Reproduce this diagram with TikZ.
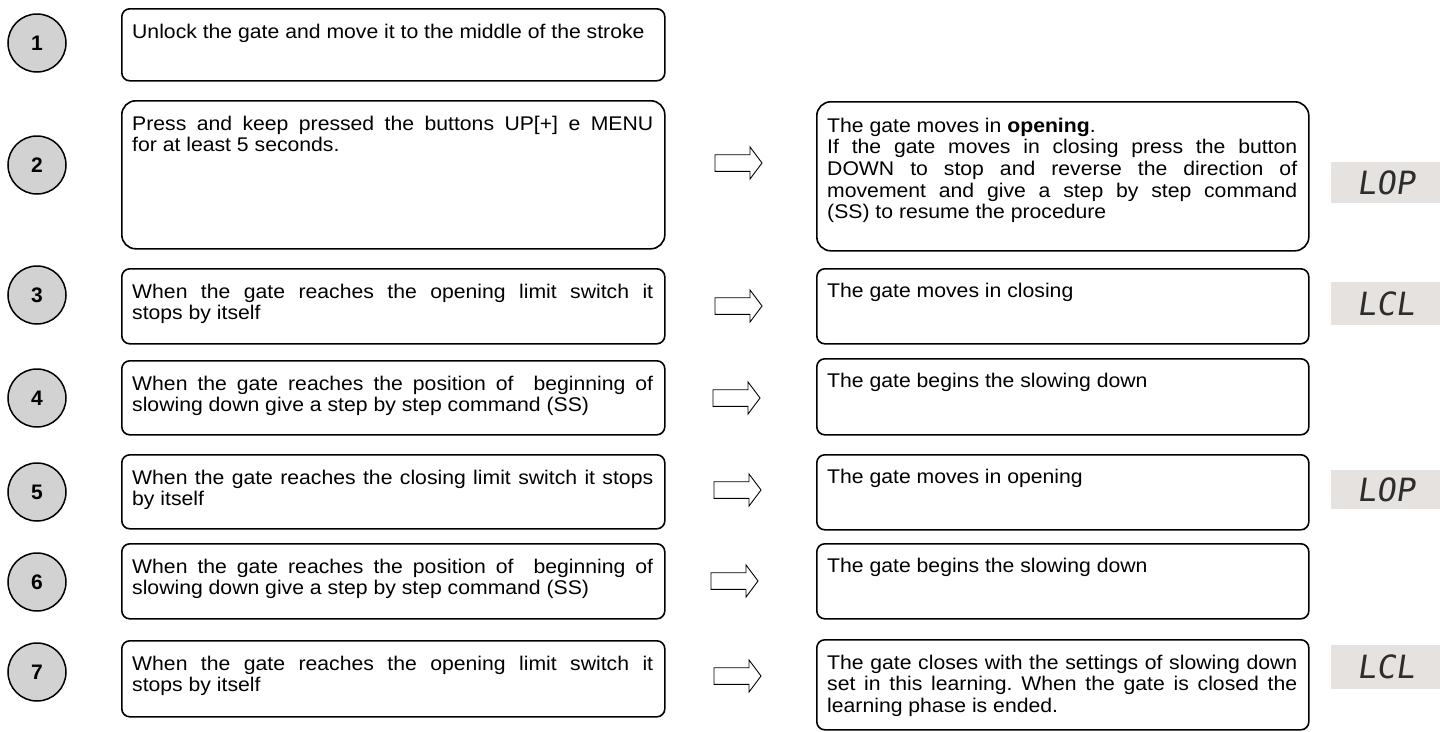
\documentclass[tikz,border=0pt]{standalone}
\usepackage{fontspec}
\setmainfont{Liberation Sans}[FakeStretch=1.07]
\newfontfamily\numfont{Liberation Sans}
\newfontfamily\segfont{DejaVu Sans Mono}[FakeSlant=0.15]
\definecolor{circfill}{RGB}{210,210,210}
\definecolor{dispfill}{RGB}{229,226,224}
\definecolor{segcol}{RGB}{45,45,45}
\frenchspacing
\begin{document}
\begin{tikzpicture}[x=1pt,y=-1pt,
  box/.style={draw, line width=1.6pt, rounded corners=8pt, anchor=north west, inner sep=0pt},
  bigbox/.style={box, rounded corners=14pt},
  num/.style={circle, draw, line width=1.5pt, fill=circfill, minimum size=58pt, inner sep=0pt,
    font=\numfont\bfseries\fontsize{21}{21}\selectfont},
  txt/.style={anchor=base west, inner sep=0pt, align=justify, font=\fontsize{19.8}{21.7}\selectfont},
  ltxt/.style={txt, text width=521pt},
  rtxt/.style={txt, text width=470pt},
  disp/.style={fill=dispfill, anchor=north west, inner sep=0pt, minimum width=109pt,
    text=segcol, font=\segfont\fontsize{32}{32}\selectfont},
  blockarrow/.pic={\draw[line width=0.9pt, fill=white] (-23.5,-8.3) -- (11.5,-8.3) -- (11.5,-16) -- (23.5,0)
     -- (11.5,16) -- (11.5,8.3) -- (-23.5,8.3) -- cycle;}
]
\useasboundingbox (0,0) rectangle (1440,731);

% step circles
\node[num] (c1) at (37,43) {1};
\node[num] (c2) at (37,165) {2};
\node[num] (c3) at (37,295) {3};
\node[num] (c4) at (37,398) {4};
\node[num] (c5) at (37,492) {5};
\node[num] (c6) at (37,582) {6};
\node[num] (c7) at (37,672) {7};

% left boxes
\node[box, minimum width=543pt, minimum height=72pt] (l1) at (121,8) {};
\node[bigbox, minimum width=543pt, minimum height=148pt] (l2) at (121,100) {};
\node[box, minimum width=543pt, minimum height=75pt] (l3) at (121,268) {};
\node[box, minimum width=543pt, minimum height=74pt] (l4) at (121,360) {};
\node[box, minimum width=543pt, minimum height=74pt] (l5) at (121,454) {};
\node[box, minimum width=543pt, minimum height=75pt] (l6) at (121,543) {};
\node[box, minimum width=543pt, minimum height=76pt] (l7) at (121,640) {};

\node[ltxt] (lt1) at ([xshift=11pt,yshift=-30pt]l1.north west) {Unlock the gate and move it to the middle of the stroke};
\node[ltxt] (lt2) at ([xshift=11pt,yshift=-30pt]l2.north west) {Press and keep pressed the buttons UP[+] e MENU \linebreak for at least 5 seconds.};
\node[ltxt] (lt3) at ([xshift=11pt,yshift=-30pt]l3.north west) {When the gate reaches the opening limit switch it \linebreak stops by itself};
\node[ltxt] (lt4) at ([xshift=11pt,yshift=-30pt]l4.north west) {When the gate reaches the position of\ \ beginning of \linebreak slowing down give a step by step command (SS)};
\node[ltxt] (lt5) at ([xshift=11pt,yshift=-30pt]l5.north west) {When the gate reaches the closing limit switch it stops \linebreak by itself};
\node[ltxt] (lt6) at ([xshift=11pt,yshift=-30pt]l6.north west) {When the gate reaches the position of\ \ beginning of \linebreak slowing down give a step by step command (SS)};
\node[ltxt] (lt7) at ([xshift=11pt,yshift=-30pt]l7.north west) {When the gate reaches the opening limit switch it \linebreak stops by itself};

% arrows
\pic (a2) at (738.5,163) {blockarrow};
\pic (a3) at (738.5,306) {blockarrow};
\pic (a4) at (736.5,398) {blockarrow};
\pic (a5) at (737.5,490) {blockarrow};
\pic (a6) at (734.5,581) {blockarrow};
\pic (a7) at (737.5,676) {blockarrow};

% right boxes
\node[bigbox, minimum width=492pt, minimum height=149pt] (r2) at (816,101) {};
\node[box, minimum width=492pt, minimum height=75pt] (r3) at (816,268) {};
\node[box, minimum width=492pt, minimum height=76pt] (r4) at (816,358) {};
\node[box, minimum width=492pt, minimum height=75pt] (r5) at (816,454) {};
\node[box, minimum width=492pt, minimum height=75pt] (r6) at (816,543) {};
\node[box, minimum width=492pt, minimum height=90pt] (r7) at (816,639) {};

\node[rtxt] (rt2) at ([xshift=11pt,yshift=-31pt]r2.north west) {The gate moves in \textbf{opening}.\\ If the gate moves in closing press the button \linebreak DOWN to stop and reverse the direction of \linebreak movement and give a step by step command \linebreak (SS) to resume the procedure};
\node[rtxt] (rt3) at ([xshift=11pt,yshift=-29pt]r3.north west) {The gate moves in closing};
\node[rtxt] (rt4) at ([xshift=11pt,yshift=-29pt]r4.north west) {The gate begins the slowing down};
\node[rtxt] (rt5) at ([xshift=11pt,yshift=-29pt]r5.north west) {The gate moves in opening};
\node[rtxt] (rt6) at ([xshift=11pt,yshift=-29pt]r6.north west) {The gate begins the slowing down};
\node[rtxt] (rt7) at ([xshift=11pt,yshift=-30pt]r7.north west) {The gate closes with the settings of slowing down \linebreak set in this learning. When the gate is closed the \linebreak learning phase is ended.};

% displays
\node[disp, minimum height=41pt] (d2) at (1331,162) {LOP};
\node[disp, minimum height=43pt] (d3) at (1331,282) {LCL};
\node[disp, minimum height=39pt] (d5) at (1331,470) {LOP};
\node[disp, minimum height=44pt] (d7) at (1331,645) {LCL};
\end{tikzpicture}
\end{document}
